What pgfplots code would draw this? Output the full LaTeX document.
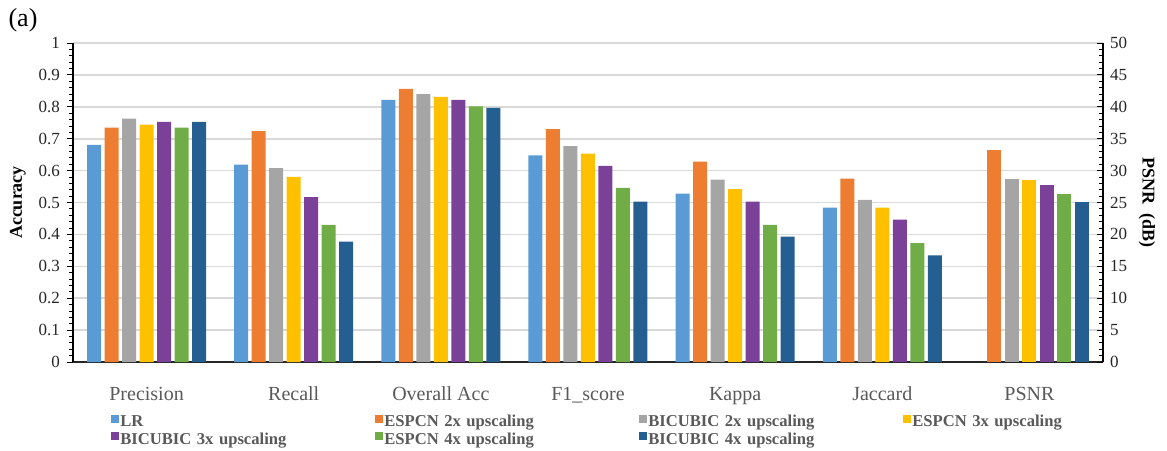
\documentclass[border=0pt]{standalone}
\usepackage{pgfplots}
\usepackage{pgfplotstable}
\pgfplotsset{compat=1.18}
\usepackage{fontspec}
\setmainfont{Liberation Serif}
\definecolor{cLR}{HTML}{5B9BD5}
\definecolor{cEa}{HTML}{ED7D31}
\definecolor{cBa}{HTML}{A5A5A5}
\definecolor{cEb}{HTML}{FFC000}
\definecolor{cBb}{HTML}{7B4199}
\definecolor{cEc}{HTML}{70AD47}
\definecolor{cBc}{HTML}{255E91}
\definecolor{txt}{HTML}{595959}
\definecolor{tck}{HTML}{262626}
\definecolor{grd}{HTML}{D9D9D9}

\pgfplotstableread{
x LR E2 B2 E3 B3 E4 B4
0 0.681 0.735 0.763 0.744 0.753 0.735 0.753
1 0.619 0.724 0.608 0.580 0.517 0.430 0.377
2 0.822 0.856 0.840 0.831 0.822 0.801 0.797
3 0.648 0.730 0.677 0.653 0.615 0.546 0.503
4 0.528 0.628 0.572 0.542 0.503 0.430 0.393
5 0.484 0.575 0.508 0.484 0.446 0.373 0.334
}\acc
\pgfplotstableread{
x LR E2 B2 E3 B3 E4 B4
6 0 33.3 28.7 28.5 27.8 26.4 25.1
}\psnr

\pgfplotsset{
  common/.style={
    scale only axis, width=515pt, height=159.5pt,
    at={(0,0)}, anchor=south west,
    xmin=-0.5, xmax=6.5,
    ybar=1.75pt, bar width=7pt,
    /pgf/number format/assume math mode=true,
    tick label style={font=\fontsize{8.5}{10}\selectfont, text=tck},
    minor y tick num=4,
    major tick length=3pt, minor tick length=2pt,
    every tick/.style={black, line width=0.5pt},
    every minor tick/.style={black, line width=0.4pt},
  },
}

\begin{document}
\begin{tikzpicture}
\useasboundingbox (-36.5pt,-44pt) rectangle (547pt,181pt);
\begin{axis}[common,
  ymin=0, ymax=1,
  ytick={0,0.1,...,1.0},
  yticklabel style={/pgf/number format/fixed, /pgf/number format/precision=1},
  axis x line*=bottom, axis y line*=left,
  x axis line style={line width=1pt, color=tck, -},
  y axis line style={line width=0.6pt, color=black, -},
  tick align=outside,
  xtick={0,1,2,3,4,5,6},
  xticklabels={Precision, Recall, Overall Acc, F1\_score, Kappa, Jaccard, PSNR},
  xticklabel style={font=\fontsize{10}{12}\selectfont, text=txt, anchor=base, yshift=-16pt},
  x tick style={draw=none},
  ymajorgrids, major grid style={grd, line width=0.8pt},
  every axis y label/.style={at={(axis description cs:0,0.5)}, xshift=-27.5pt, rotate=90, anchor=center, font=\bfseries\fontsize{9}{11}\selectfont},
  ylabel={Accuracy},
  legend columns=4, legend cell align=left,
  legend image code/.code={\fill[#1,draw=none] (0pt,0pt) rectangle (4pt,4pt);},
  legend style={draw=none, fill=none, at={(0,0)}, anchor=north west,
    xshift=19pt, yshift=-26pt, inner sep=0pt, row sep=0.6pt,
    font=\bfseries\fontsize{8.3}{9}\selectfont, text=txt,
    nodes={inner sep=0.5pt},
    /tikz/every even column/.append style={text width=127pt}},
]
\addplot[fill=cLR, draw=none] table[x=x, y=LR] {\acc};
\addplot[fill=cEa, draw=none] table[x=x, y=E2] {\acc};
\addplot[fill=cBa, draw=none] table[x=x, y=B2] {\acc};
\addplot[fill=cEb, draw=none] table[x=x, y=E3] {\acc};
\addplot[fill=cBb, draw=none] table[x=x, y=B3] {\acc};
\addplot[fill=cEc, draw=none] table[x=x, y=E4] {\acc};
\addplot[fill=cBc, draw=none] table[x=x, y=B4] {\acc};
\legend{LR, ESPCN 2x upscaling, BICUBIC 2x upscaling, ESPCN 3x upscaling, BICUBIC 3x upscaling, ESPCN 4x upscaling, BICUBIC 4x upscaling}
\end{axis}
\begin{axis}[common,
  ymin=0, ymax=50,
  ytick={0,5,...,50},
  axis x line=none, axis y line*=right,
  y axis line style={line width=0.6pt, color=black, -},
  tick align=inside,
  xtick=\empty,
  every axis y label/.style={at={(axis description cs:1,0.5)}, xshift=22pt, rotate=-90, anchor=center, font=\bfseries\fontsize{9}{11}\selectfont},
  ylabel={PSNR\ \ (dB)},
]
\addplot[fill=none, draw=none] table[x=x, y=LR] {\psnr};
\addplot[fill=cEa, draw=none] table[x=x, y=E2] {\psnr};
\addplot[fill=cBa, draw=none] table[x=x, y=B2] {\psnr};
\addplot[fill=cEb, draw=none] table[x=x, y=E3] {\psnr};
\addplot[fill=cBb, draw=none] table[x=x, y=B3] {\psnr};
\addplot[fill=cEc, draw=none] table[x=x, y=E4] {\psnr};
\addplot[fill=cBc, draw=none] table[x=x, y=B4] {\psnr};
\end{axis}
\node[font=\fontsize{13}{15}\selectfont] at (-25pt,171pt) {(a)};
\end{tikzpicture}
\end{document}
